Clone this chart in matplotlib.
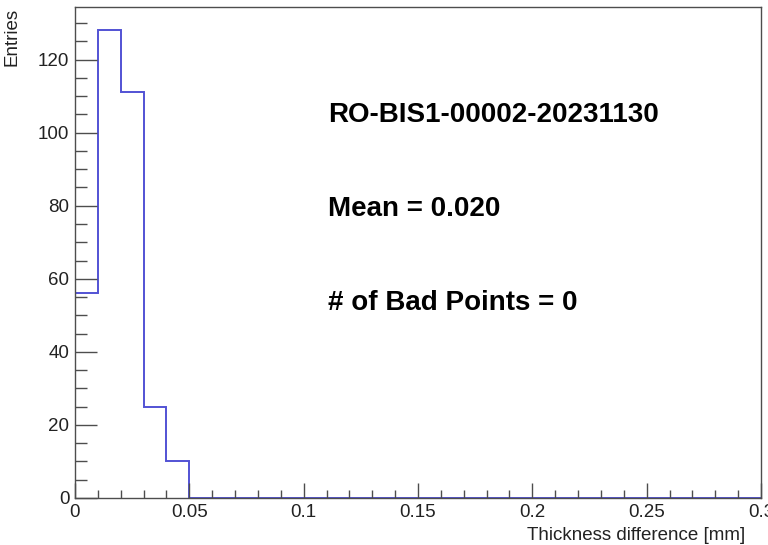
import matplotlib
matplotlib.use("Agg")
import matplotlib.pyplot as plt
import numpy as np
from matplotlib.ticker import MultipleLocator, FixedLocator

plt.rcParams['font.family'] = ['Liberation Sans', 'DejaVu Sans']

# Data
bin_edges = [0.00, 0.01, 0.02, 0.03, 0.04, 0.05, 0.06, 0.07, 0.08, 0.09, 0.10,
             0.11, 0.12, 0.13, 0.14, 0.15, 0.16, 0.17, 0.18, 0.19, 0.20,
             0.21, 0.22, 0.23, 0.24, 0.25, 0.26, 0.27, 0.28, 0.29, 0.30]
counts = [56, 128, 111, 25, 10, 0, 0, 0, 0, 0,
          0, 0, 0, 0, 0, 0, 0, 0, 0, 0,
          0, 0, 0, 0, 0, 0, 0, 0, 0, 0]
x_ticks = [0, 0.05, 0.1, 0.15, 0.2, 0.25, 0.3]
x_tick_labels = ["0", "0.05", "0.1", "0.15", "0.2", "0.25", "0.3"]
y_ticks = [0, 20, 40, 60, 80, 100, 120]
y_tick_labels = ["0", "20", "40", "60", "80", "100", "120"]
title_text = "RO-BIS1-00002-20231130"
mean_text = "Mean = 0.020"
bad_text = "# of Bad Points = 0"
x_label = "Thickness difference [mm]"
y_label = "Entries"

fig = plt.figure(figsize=(7.68, 5.45), dpi=100)
ax = fig.add_axes([75/768, 47/545, (761-75)/768, (498-7)/545])

ax.stairs(counts, bin_edges, color='#5252d4', linewidth=1.4, baseline=0, zorder=1)

ax.set_xlim(0, 0.3)
ax.set_ylim(0, max(counts) * 1.05)

ax.xaxis.set_major_locator(FixedLocator(x_ticks))
ax.set_xticklabels(x_tick_labels)
ax.xaxis.set_minor_locator(MultipleLocator(0.01))
ax.yaxis.set_major_locator(FixedLocator(y_ticks))
ax.set_yticklabels(y_tick_labels)
ax.yaxis.set_minor_locator(MultipleLocator(5))

frame_col = '#4d4d4d'
for s in ax.spines.values():
    s.set_color(frame_col)
    s.set_linewidth(1.0)
    s.set_zorder(3)

ax.tick_params(axis='x', which='major', direction='in', length=10.8, width=1.0,
               color=frame_col, labelsize=13.5, pad=4, labelcolor='#222222')
ax.tick_params(axis='x', which='minor', direction='in', length=5.8, width=1.0, color=frame_col)
ax.tick_params(axis='y', which='major', direction='in', length=15.8, width=1.0,
               color=frame_col, labelsize=13.5, pad=4, labelcolor='#222222')
ax.tick_params(axis='y', which='minor', direction='in', length=8.6, width=1.0, color=frame_col)

fig.text(745/768, 1 - 535/545, x_label, ha='right', va='center', fontsize=13.5, color='#222222')
fig.text(11.5/768, 1 - 8/545, y_label, ha='center', va='top', rotation=90, fontsize=13.5, color='#222222')

ax.text(328/768, 1 - 115/545, title_text, transform=fig.transFigure, ha='left', va='center',
        fontsize=20, fontweight='bold', color='black')
ax.text(328/768, 1 - 209/545, mean_text, transform=fig.transFigure, ha='left', va='center',
        fontsize=20, fontweight='bold', color='black')
ax.text(328/768, 1 - 303/545, bad_text, transform=fig.transFigure, ha='left', va='center',
        fontsize=20, fontweight='bold', color='black')

fig.savefig("out.png", dpi=100)
